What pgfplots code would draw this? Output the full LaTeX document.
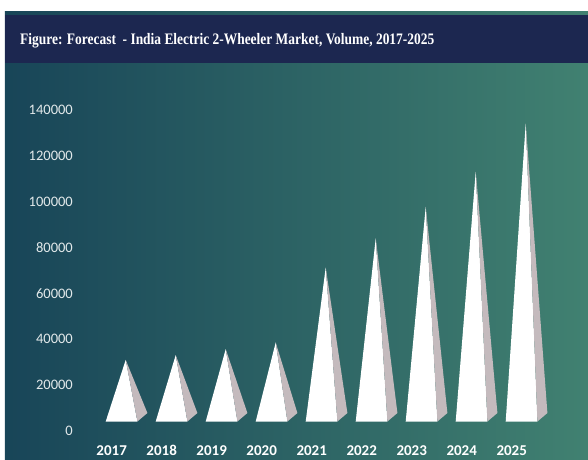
\documentclass[border=0pt]{standalone}
\usepackage{pgfplots}
\pgfplotsset{compat=1.18}
\usepackage{fontspec}
\setmainfont{Carlito}
\newfontfamily\titlefont{Liberation Serif}
\definecolor{bgL}{HTML}{184558}
\definecolor{bgR}{HTML}{418171}
\definecolor{navy}{HTML}{1C2750}
\definecolor{sideg}{HTML}{C4BABD}
\definecolor{ticktxt}{HTML}{E2E9EA}
\begin{document}
\begin{tikzpicture}
\fill[white] (-5pt,0) rectangle (583pt,459pt);
\begin{axis}[
  at={(0,0)}, anchor=south west,
  scale only axis, width=583pt, height=448pt,
  xmin=-2.414, xmax=9.246,
  ymin=-12211, ymax=183162,
  axis line style={draw=none},
  tick style={draw=none},
  axis background/.style={left color=bgL, right color=bgR},
  xtick={0,1,2,3,4,5,6,7,8},
  xticklabels={2017,2018,2019,2020,2021,2022,2023,2024,2025},
  xticklabel style={font=\fontsize{15}{15}\selectfont\bfseries, text=white, anchor=base, inner sep=0pt, xshift=-14pt, yshift=4pt},
  ytick={0,20000,40000,60000,80000,100000,120000,140000},
  yticklabels={0,20000,40000,60000,80000,100000,120000,140000},
  scaled y ticks=false,
  yticklabel style={font=\fontsize{14.5}{15}\selectfont, text=ticktxt, anchor=east, inner sep=0pt, xshift=68pt},
  clip=false,
]
\fill[navy] (rel axis cs:0,0.8839) rectangle (rel axis cs:1,0.9911);
\node[anchor=base west, text=white, inner sep=0pt, font=\titlefont\fontsize{16}{18}\selectfont\bfseries] at (rel axis cs:0.0257,0.9263) {\scalebox{0.84}[1]{Figure: Forecast\ \ - India Electric 2-Wheeler Market, Volume, 2017-2025}};
% 2017
\addplot[fill=white, draw=none] coordinates {(-0.40,4143) (0,31000) (0.234,4143)} -- cycle;
\addplot[fill=sideg, draw=none] coordinates {(0.234,4143) (0.434,7850) (0,31000)} -- cycle;
% 2018
\addplot[fill=white, draw=none] coordinates {(0.60,4143) (1,33100) (1.234,4143)} -- cycle;
\addplot[fill=sideg, draw=none] coordinates {(1.234,4143) (1.434,7850) (1,33100)} -- cycle;
% 2019
\addplot[fill=white, draw=none] coordinates {(1.60,4143) (2,35700) (2.234,4143)} -- cycle;
\addplot[fill=sideg, draw=none] coordinates {(2.234,4143) (2.434,7850) (2,35700)} -- cycle;
% 2020
\addplot[fill=white, draw=none] coordinates {(2.60,4143) (3,38600) (3.234,4143)} -- cycle;
\addplot[fill=sideg, draw=none] coordinates {(3.234,4143) (3.434,7850) (3,38600)} -- cycle;
% 2021
\addplot[fill=white, draw=none] coordinates {(3.60,4143) (4,71300) (4.234,4143)} -- cycle;
\addplot[fill=sideg, draw=none] coordinates {(4.234,4143) (4.434,7850) (4,71300)} -- cycle;
% 2022
\addplot[fill=white, draw=none] coordinates {(4.60,4143) (5,84000) (5.234,4143)} -- cycle;
\addplot[fill=sideg, draw=none] coordinates {(5.234,4143) (5.434,7850) (5,84000)} -- cycle;
% 2023
\addplot[fill=white, draw=none] coordinates {(5.60,4143) (6,97700) (6.234,4143)} -- cycle;
\addplot[fill=sideg, draw=none] coordinates {(6.234,4143) (6.434,7850) (6,97700)} -- cycle;
% 2024
\addplot[fill=white, draw=none] coordinates {(6.60,4143) (7,113000) (7.234,4143)} -- cycle;
\addplot[fill=sideg, draw=none] coordinates {(7.234,4143) (7.434,7850) (7,113000)} -- cycle;
% 2025
\addplot[fill=white, draw=none] coordinates {(7.60,4143) (8,134000) (8.234,4143)} -- cycle;
\addplot[fill=sideg, draw=none] coordinates {(8.234,4143) (8.434,7850) (8,134000)} -- cycle;
\end{axis}
\end{tikzpicture}
\end{document}
